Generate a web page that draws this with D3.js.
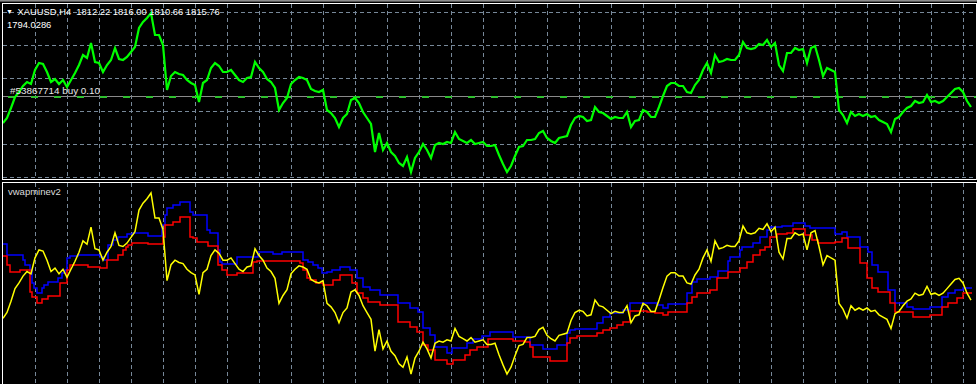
<!DOCTYPE html>
<html><head><meta charset="utf-8">
<script src="https://cdn.jsdelivr.net/npm/d3@7"></script>
<style>html,body{margin:0;padding:0;background:#000;overflow:hidden}</style>
</head><body>
<svg id="chart" width="977" height="384"></svg>
<script>
// ---------- data ----------
const symbolTitle = "XAUUSD,H4  1812.22 1816.00 1810.66 1815.76";
const priceLabel = "1794.0286";
const tradeLabel = "#53867714 buy 0.10";
const indicatorName = "vwapminev2";
const tradePrice = 1817;
const barsPerSample = 4;
const totalBars = 970;

// close prices (one sample every 4 bars)
const closePrices = [
 1790,1795,1805,1816,1821,1827,1831,1829,1843,1850,
 1849,1841,1831,1834,1829,1833,1826,1833,1840,1848,
 1858,1855,1870,1851,1850,1841,1848,1853,1865,1854,
 1853,1856,1861,1866,1885,1891,1895,1900,1878,1878,
 1868,1823,1837,1841,1839,1838,1833,1830,1828,1811,
 1830,1833,1845,1850,1847,1841,1841,1843,1838,1833,
 1831,1835,1836,1851,1845,1841,1834,1831,1825,1803,
 1810,1815,1829,1833,1836,1835,1833,1824,1822,1821,
 1823,1803,1800,1795,1786,1795,1799,1813,1815,1810,
 1801,1795,1789,1761,1780,1763,1770,1761,1757,1750,
 1747,1756,1741,1755,1761,1769,1763,1755,1768,1770,
 1769,1771,1770,1781,1774,1772,1770,1773,1769,1770,
 1771,1767,1767,1768,1758,1749,1741,1747,1757,1766,
 1767,1773,1773,1774,1780,1782,1775,1772,1770,1775,
 1776,1777,1788,1795,1797,1796,1792,1793,1806,1801,
 1800,1797,1794,1796,1795,1795,1801,1786,1792,1793,
 1803,1801,1796,1796,1806,1817,1827,1830,1830,1827,
 1827,1821,1820,1828,1833,1843,1850,1840,1858,1851,
 1852,1854,1853,1853,1858,1871,1865,1864,1865,1869,
 1868,1873,1866,1870,1848,1842,1860,1860,1865,1863,
 1864,1850,1865,1867,1853,1837,1845,1843,1841,1803,
 1798,1790,1801,1797,1799,1797,1799,1796,1797,1793,
 1791,1789,1781,1794,1796,1801,1805,1807,1812,1810,
 1811,1818,1811,1812,1810,1812,1816,1820,1824,1825,
 1821,1812,1806
];

// VWAP step lines: [bar, value]
const blueSteps = [
 [0,1855.2],[4,1845.5],[20,1841.1],[22,1836.7],[27,1832.3],[29,1820.9],[31,1816.5],[34,1812.1],
 [39,1816.5],[41,1819.2],[45,1821.8],[55,1825.3],[59,1829.7],[62,1832.3],[64,1842.9],[67,1844.6],
 [75,1845.5],[97,1843.8],[101,1841.1],[105,1854.3],[110,1858.7],[115,1861.3],[124,1864],[130,1864.9],
 [145,1862.2],[159,1871.9],[162,1880.7],[164,1886.8],[170,1889.5],[177,1892.1],[187,1883.3],[190,1880.7],
 [204,1867.5],[207,1864.9],[215,1849.9],[217,1839.4],[219,1837.6],[234,1843.8],[255,1848.2],[270,1846.4],
 [279,1848.2],[300,1841.1],[305,1839.4],[310,1836.7],[315,1834.1],[319,1829.7],[324,1830.6],[329,1832.3],
 [337,1835],[347,1832.3],[354,1825.3],[360,1817.4],[367,1814.8],[377,1810.4],[395,1803.3],[407,1799],
 [415,1795.4],[420,1781.4],[427,1775.2],[432,1764.7],[444,1759.4],[449,1763.8],[464,1768.2],[470,1771.7],
 [479,1774.3],[487,1777.9],[510,1773.5],[527,1766.4],[540,1762.9],[554,1766.4],[564,1777],[567,1779.6],
 [572,1780.5],[594,1785.8],[600,1791],[607,1794.6],[620,1797.2],[627,1803.3],[654,1801.6],[660,1799],
 [665,1802.5],[684,1812.1],[689,1821.8],[694,1824.4],[707,1826.2],[715,1831.5],[725,1840.2],[727,1843.8],
 [737,1849.9],[739,1852.6],[750,1856.1],[757,1861.3],[764,1867.5],[767,1870.1],[779,1871],[790,1873.6],
 [802,1871],[807,1869.2],[832,1864],[839,1865.7],[844,1861.3],[857,1852.6],[865,1848.2],[869,1836.7],
 [875,1830.6],[885,1814.8],[892,1803.3],[904,1799.8],[910,1798.1],[927,1799.8],[939,1808.6],[945,1812.1],
 [952,1814.8],[960,1816.5],[969,1816.5]
];
const redSteps = [
 [0,1844.6],[4,1836.7],[7,1830.6],[17,1832.3],[27,1813],[29,1808.6],[34,1803.3],[39,1806.9],
 [45,1809.5],[57,1820.9],[64,1832.3],[67,1836.7],[85,1835],[97,1834.1],[104,1841.1],[115,1845.5],
 [120,1849.9],[123,1852.6],[125,1854.3],[129,1856.1],[145,1855.2],[160,1861.3],[162,1871.9],[170,1874.5],
 [177,1878.9],[187,1861.3],[190,1860.5],[194,1856.9],[205,1853.4],[215,1836.7],[219,1832.3],[224,1827.9],
 [234,1829.7],[250,1839.4],[254,1840.2],[297,1838.5],[300,1832.3],[304,1825.3],[307,1823.6],[313,1820.9],
 [320,1819.2],[330,1823.6],[337,1827.9],[349,1820.9],[354,1812.1],[360,1807.7],[365,1804.2],[377,1801.6],
 [395,1786.6],[407,1782.3],[414,1777.9],[420,1766.4],[425,1762],[432,1753.3],[444,1749.7],[450,1753.3],
 [462,1757.7],[467,1762],[474,1764.7],[485,1771.7],[510,1770],[522,1769.1],[527,1764.7],[530,1755.9],
 [547,1752.4],[564,1768.2],[567,1772.6],[574,1774.3],[594,1777],[600,1779.6],[607,1781.4],[614,1784],
 [620,1786.6],[627,1796.3],[644,1795.4],[652,1794.6],[660,1792.8],[665,1795.4],[684,1803.3],[689,1808.6],
 [694,1812.1],[707,1814.8],[714,1825.3],[725,1830.6],[737,1834.1],[744,1839.4],[750,1845.5],[757,1849.9],
 [762,1852.6],[767,1861.3],[774,1864],[784,1864.9],[790,1868.4],[802,1863.1],[809,1858.7],[815,1856.1],
 [832,1856.9],[839,1860.5],[845,1851.7],[857,1838.5],[864,1825.3],[869,1816.5],[875,1813],[887,1803.3],
 [892,1795.4],[910,1791],[927,1792.8],[939,1799.8],[945,1803.3],[954,1807.7],[960,1812.1],[969,1812.1]
];

// grid positions
const gridBars = [32,64,96,128,160,192,224,256,288,320,352,384,416,448,480,512,544,576,608,640,672,704,736,768,800,832,864,896,928,960];
const priceGridTicks = [1901,1868,1835,1802,1769,1736];

// ---------- layout ----------
const W = 977, H = 384;
const left = 2.5, right = 976.5;
const topPane = {y0: 3.5, y1: 179.5};
const lowPane = {y0: 182.5, y1: 400};
const svg = d3.select("#chart");
const font = "'Liberation Sans', Arial, sans-serif";

svg.append("rect").attr("width", W).attr("height", H).attr("fill", "#000");
svg.append("rect").attr("x", 0).attr("y", 0).attr("width", W).attr("height", 1.6).attr("fill", "#8c8c8c");

const x = d3.scaleLinear().domain([0, totalBars]).range([3, 973]);
const yTop = d3.scaleLinear().domain([1733, 1913]).range([180, 0]);
const yLow = d3.scaleLinear().domain([1741, 1900]).range([374, 193]);

const defs = svg.append("defs");
defs.append("clipPath").attr("id", "clipTop").append("rect")
  .attr("x", 3).attr("y", 4).attr("width", 973).attr("height", 175.5);
defs.append("clipPath").attr("id", "clipLow").append("rect")
  .attr("x", 3).attr("y", 183).attr("width", 973).attr("height", 210);

const gridColor = "#778899";

// ---- top pane ----
const gTop = svg.append("g").attr("clip-path", "url(#clipTop)");
gTop.selectAll("line.hg").data(priceGridTicks).join("line")
  .attr("x1", 3).attr("x2", 976)
  .attr("y1", d => Math.round(yTop(d)) + 0.5).attr("y2", d => Math.round(yTop(d)) + 0.5)
  .attr("stroke", gridColor).attr("stroke-width", 1).attr("stroke-dasharray", "4,3");
gTop.selectAll("line.vg").data(gridBars).join("line")
  .attr("x1", d => Math.round(x(d)) + 0.5).attr("x2", d => Math.round(x(d)) + 0.5)
  .attr("y1", 4).attr("y2", 180)
  .attr("stroke", gridColor).attr("stroke-width", 1).attr("stroke-dasharray", "4,3");

// trade line
const ty = Math.round(yTop(tradePrice)) + 0.5;
gTop.append("line").attr("x1", 3).attr("x2", 976).attr("y1", ty).attr("y2", ty)
  .attr("stroke", "#8a8a8a").attr("stroke-width", 1);
gTop.append("line").attr("x1", 8).attr("x2", 976).attr("y1", ty + 0.5).attr("y2", ty + 0.5)
  .attr("stroke", "#2fbf2f").attr("stroke-width", 2).attr("stroke-dasharray", "7,16");

// texts
svg.append("text").attr("x", 6).attr("y", 14).attr("fill", "#fff")
  .attr("font-family", font).attr("font-size", 7).text("▼");
svg.append("text").attr("x", 17.5).attr("y", 15).attr("fill", "#fff")
  .attr("font-family", font).attr("font-size", 9.4).style("white-space", "pre")
  .attr("xml:space", "preserve").text(symbolTitle);
svg.append("text").attr("x", 7).attr("y", 28).attr("fill", "#fff")
  .attr("font-family", font).attr("font-size", 9.4).text(priceLabel);
svg.append("text").attr("x", 10).attr("y", 93.5).attr("fill", "#e6e6e6")
  .attr("font-family", font).attr("font-size", 9.9).text(tradeLabel);

// price line
const priceLine = d3.line()
  .x((d, i) => x(i * barsPerSample))
  .y(d => yTop(d));
gTop.append("path").datum(closePrices).attr("d", priceLine)
  .attr("fill", "none").attr("stroke", "#00ff00").attr("stroke-width", 2.2)
  .attr("stroke-linejoin", "miter");

// top pane border
svg.append("rect").attr("x", left).attr("y", topPane.y0)
  .attr("width", right - left).attr("height", topPane.y1 - topPane.y0)
  .attr("fill", "none").attr("stroke", "#fff").attr("stroke-width", 1);

// ---- lower pane ----
const gLow = svg.append("g").attr("clip-path", "url(#clipLow)");
gLow.selectAll("line.vg").data(gridBars).join("line")
  .attr("x1", d => Math.round(x(d)) + 0.5).attr("x2", d => Math.round(x(d)) + 0.5)
  .attr("y1", 183).attr("y2", 384)
  .attr("stroke", gridColor).attr("stroke-width", 1).attr("stroke-dasharray", "4,3");

svg.append("text").attr("x", 8).attr("y", 195).attr("fill", "#dcdcdc")
  .attr("font-family", font).attr("font-size", 9.5).text(indicatorName);

const stepLine = d3.line().curve(d3.curveStepAfter)
  .x(d => x(d[0])).y(d => yLow(d[1]));
gLow.append("path").datum(blueSteps).attr("d", stepLine)
  .attr("fill", "none").attr("stroke", "#0000ff").attr("stroke-width", 1.5);
gLow.append("path").datum(redSteps).attr("d", stepLine)
  .attr("fill", "none").attr("stroke", "#ff0000").attr("stroke-width", 1.5);

const yellowLine = d3.line()
  .x((d, i) => x(i * barsPerSample))
  .y(d => yLow(d));
gLow.append("path").datum(closePrices).attr("d", yellowLine)
  .attr("fill", "none").attr("stroke", "#ffff00").attr("stroke-width", 1.5);

svg.append("rect").attr("x", left).attr("y", lowPane.y0)
  .attr("width", right - left).attr("height", lowPane.y1 - lowPane.y0)
  .attr("fill", "none").attr("stroke", "#fff").attr("stroke-width", 1);
</script>
</body></html>
